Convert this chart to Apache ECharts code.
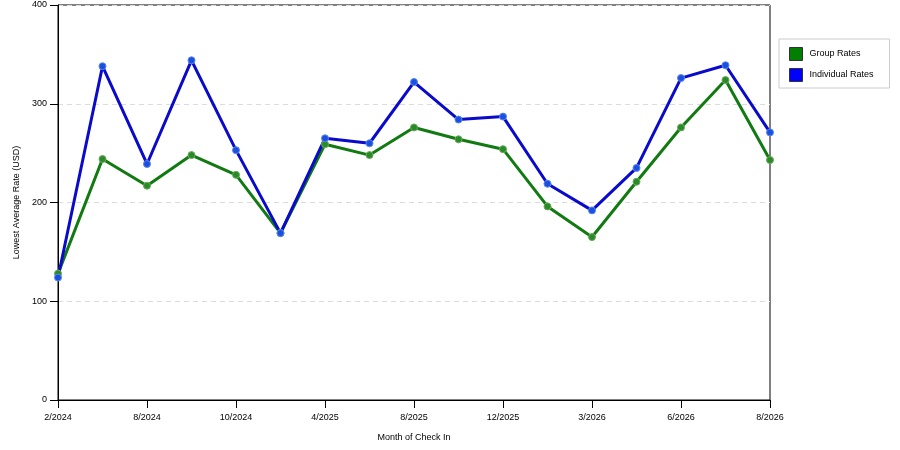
<!DOCTYPE html>
<html lang="en">
<head>
    <meta charset="UTF-8">
    <title>Lowest Average Rate</title>
    <style>
        html, body { margin: 0; padding: 0; background: #fff; }
    </style>
</head>
<body>
<script src="https://cdn.jsdelivr.net/npm/echarts@6/dist/echarts.min.js"></script>
<div id="main" style="width: 900px;height:450px;"></div>

<script>
    // months (only every other one is labelled on the axis)
    var months = ['2/2024', '5/2024', '8/2024', '9/2024', '10/2024', '1/2025', '4/2025', '6/2025',
        '8/2025', '10/2025', '12/2025', '2/2026', '3/2026', '4/2026', '6/2026', '7/2026', '8/2026'];

    var groupRates = [128, 244, 217, 248, 228, 169, 259, 248, 276, 264, 254, 196, 165, 221, 276, 324, 243];
    var individualRates = [124, 338, 239, 344, 253, 169, 265, 260, 322, 284, 287, 219, 192, 235, 326, 339, 271];

    var yTicks = [0, 100, 200, 300, 400];

    var labelFont = {fontFamily: 'Liberation Sans', fontSize: 9, color: '#000'};

    var myChart = echarts.init(document.getElementById('main'));

    var option = {
        animation: false,
        backgroundColor: '#fff',
        textStyle: {fontFamily: 'Liberation Sans'},
        grid: {
            left: 58, right: 130, top: 5, bottom: 50,
            show: true, borderColor: '#000', borderWidth: 1
        },
        legend: {
            orient: 'vertical',
            left: 779, top: 39,
            padding: [8, 16, 6, 10],
            itemGap: 7,
            itemWidth: 13, itemHeight: 13,
            borderColor: '#ccc', borderWidth: 1,
            icon: 'rect',
            textStyle: {fontFamily: 'Liberation Sans', fontSize: 9, color: '#000', padding: [0, 0, 0, 2]},
            data: [
                {name: 'Group Rates', itemStyle: {color: '#007f00', borderColor: '#333', borderWidth: 1}},
                {name: 'Individual Rates', itemStyle: {color: '#0000ff', borderColor: '#333', borderWidth: 1}}
            ]
        },
        xAxis: {
            type: 'category',
            data: months,
            boundaryGap: false,
            name: 'Month of Check In',
            nameLocation: 'middle',
            nameGap: 33,
            nameTextStyle: labelFont,
            axisLine: {lineStyle: {color: '#000', width: 1}},
            axisTick: {interval: 1, length: 8, lineStyle: {color: '#000'}},
            axisLabel: Object.assign({interval: 1, margin: 13}, labelFont),
            splitLine: {show: false}
        },
        yAxis: {
            type: 'value',
            min: yTicks[0],
            max: yTicks[yTicks.length - 1],
            interval: 100,
            name: 'Lowest Average Rate (USD)',
            nameLocation: 'middle',
            nameGap: 36,
            nameTextStyle: labelFont,
            axisLine: {show: true, lineStyle: {color: '#000', width: 1}},
            axisTick: {show: true, length: 8, lineStyle: {color: '#000'}},
            axisLabel: Object.assign({margin: 11}, labelFont),
            splitLine: {lineStyle: {color: '#dcdcdc', type: [5, 4]}}
        },
        series: [
            {
                name: 'Group Rates',
                type: 'line',
                data: groupRates,
                symbol: 'circle',
                symbolSize: 7,
                lineStyle: {color: '#117a11', width: 3},
                itemStyle: {color: '#2a8a2a', borderColor: '#6aab5a', borderWidth: 1}
            },
            {
                name: 'Individual Rates',
                type: 'line',
                data: individualRates,
                symbol: 'circle',
                symbolSize: 7,
                lineStyle: {color: '#0a0acc', width: 3},
                itemStyle: {color: '#1a4fe0', borderColor: '#5a88ee', borderWidth: 1}
            }
        ]
    };

    myChart.setOption(option);
</script>
</body>
</html>
